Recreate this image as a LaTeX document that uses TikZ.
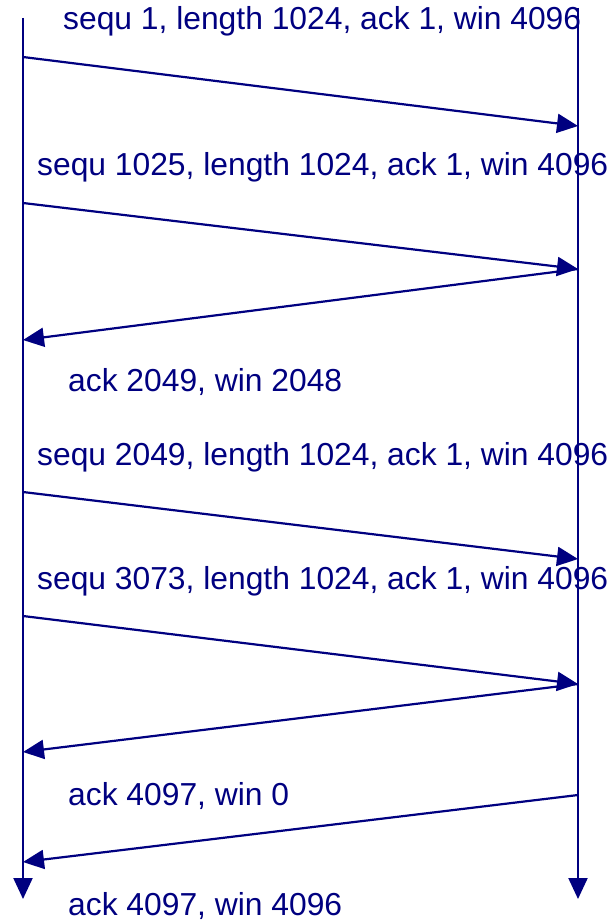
\documentclass[tikz,border=0pt]{standalone}
\usepackage{fontspec}
\setmainfont{Liberation Sans}
\usetikzlibrary{arrows.meta}
\definecolor{navy}{RGB}{0,0,128}
\begin{document}
\begin{tikzpicture}[x=1pt,y=-1pt,
  msg/.style={draw=navy,line width=2.2pt,-{Triangle[length=21pt,width=19pt]}},
  lbl/.style={anchor=west,text=navy,font=\fontsize{31.8}{36}\selectfont,inner sep=0pt}]
\useasboundingbox (0,0) rectangle (613,920);
% lifelines
\coordinate (lt) at (23,18);
\coordinate (lb) at (23,899);
\coordinate (rt) at (578,8);
\coordinate (rb) at (578,899);
\draw[msg] (lt) -- (lb);
\draw[msg] (rt) -- (rb);
% endpoints
\coordinate (a1) at (23,57);  \coordinate (b1) at (578,126);
\coordinate (a2) at (23,203); \coordinate (b2) at (578,269);
\coordinate (a3) at (23,340);
\coordinate (a4) at (23,492); \coordinate (b4) at (578,559);
\coordinate (a5) at (23,616); \coordinate (b5) at (578,684);
\coordinate (a6) at (23,752);
\coordinate (b7) at (578,795); \coordinate (a7) at (23,862);
\draw[msg] (a1) -- (b1);
\draw[msg] (a2) -- (b2);
\draw[msg] (b2) -- (a3);
\draw[msg] (a4) -- (b4);
\draw[msg] (a5) -- (b5);
\draw[msg] (b5) -- (a6);
\draw[msg] (b7) -- (a7);
% labels
\node[lbl] (t1) at (63,21) {sequ 1, length 1024, ack 1, win 4096};
\node[lbl] (t2) at (37,167) {sequ 1025, length 1024, ack 1, win 4096};
\node[lbl] (t3) at (68,382) {ack 2049, win 2048};
\node[lbl] (t4) at (37,457) {sequ 2049, length 1024, ack 1, win 4096};
\node[lbl] (t5) at (37,581) {sequ 3073, length 1024, ack 1, win 4096};
\node[lbl] (t6) at (68,796) {ack 4097, win 0};
\node[lbl] (t7) at (68,906) {ack 4097, win 4096};
\end{tikzpicture}
\end{document}
